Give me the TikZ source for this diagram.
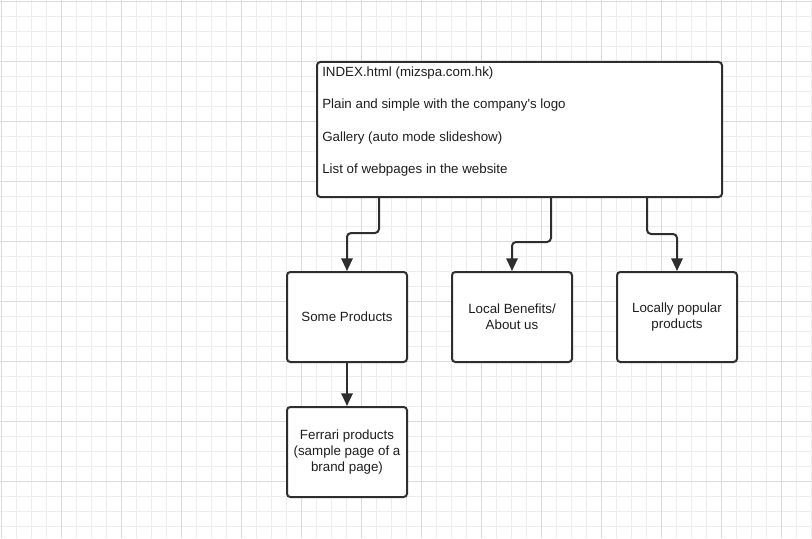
\documentclass[tikz,border=0pt]{standalone}
\usepackage{fontspec}
\setmainfont{Liberation Sans}
\usetikzlibrary{arrows.meta}
\definecolor{gridminor}{HTML}{EDEDED}
\definecolor{gridmajor}{HTML}{DBDBDB}
\definecolor{ink}{HTML}{2E2E2E}
\definecolor{txt}{HTML}{1E1E1E}
\begin{document}
\begin{tikzpicture}[x=0.75pt,y=-0.75pt,
  pagebox/.style={draw=ink, line width=1.5pt, rounded corners=2.5pt, fill=white,
    minimum width=90pt, minimum height=67.5pt, inner sep=0pt, align=center,
    text=txt, font=\fontsize{10}{11.7}\selectfont},
  homebox/.style={draw=ink, line width=1.5pt, rounded corners=2.5pt, fill=white,
    minimum width=303.75pt, minimum height=101.25pt, inner sep=0pt},
  homeline/.style={anchor=base west, inner sep=0pt, text=txt, font=\fontsize{10}{12}\selectfont},
  conn/.style={draw=ink, line width=1.5pt, rounded corners=3pt,
    -{Triangle[length=9.5pt, width=8.5pt]}}]
\useasboundingbox (0,0) rectangle (812,538);
\fill[white] (0,0) rectangle (812,538);
% background grid: light lines every 15px, darker every 60px
\foreach \k in {0,...,54}
  \draw[gridminor, line width=0.75pt] (1.5+15*\k,0) -- (1.5+15*\k,538);
\foreach \k in {0,...,35}
  \draw[gridminor, line width=0.75pt] (0,1.5+15*\k) -- (812,1.5+15*\k);
\foreach \k in {0,...,13}
  \draw[gridmajor, line width=0.75pt] (1.5+60*\k,0) -- (1.5+60*\k,538);
\foreach \k in {0,...,8}
  \draw[gridmajor, line width=0.75pt] (0,1.5+60*\k) -- (812,1.5+60*\k);

% home page box
\node[homebox] (index) at (519.5,129.5) {};
\node[homeline] (l1) at (322,76.8) {INDEX.html (mizspa.com.hk)};
\node[homeline] (l2) at (322,109) {Plain and simple with the company\textquotesingle s logo};
\node[homeline] (l3) at (322,141.2) {Gallery (auto mode slideshow)};
\node[homeline] (l4) at (322,173.4) {List of webpages in the website};

% second level pages
\node[pagebox] (some) at (347,317) {Some Products};
\node[pagebox] (local) at (512,317) {Local Benefits/\\About us};
\node[pagebox] (popular) at (677,317) {Locally popular\\products};
\node[pagebox] (ferrari) at (347,452) {Ferrari products\\(sample page of a\\brand page)};

% elbow points of the connectors
\coordinate (j1) at (379,233);
\coordinate (j2) at (551,242);
\coordinate (j3) at (647,234);

\draw[conn] (index.south -| j1) -- (j1) -| (some.north);
\draw[conn] (index.south -| j2) -- (j2) -| (local.north);
\draw[conn] (index.south -| j3) -- (j3) -| (popular.north);
\draw[conn] (some.south) -- (ferrari.north);
\end{tikzpicture}
\end{document}
